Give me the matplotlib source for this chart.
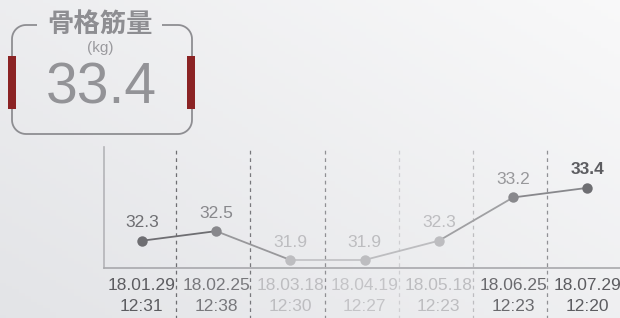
import numpy as np
import matplotlib
matplotlib.use("Agg")
import matplotlib.pyplot as plt
from matplotlib.patches import Rectangle

plt.rcParams['font.family'] = ['Liberation Sans', 'Noto Sans CJK JP', 'DejaVu Sans']

# datos
fechas = ["18.01.29", "18.02.25", "18.03.18", "18.04.19", "18.05.18", "18.06.25", "18.07.29"]
horas = ["12:31", "12:38", "12:30", "12:27", "12:23", "12:23", "12:20"]
valores = [32.3, 32.5, 31.9, 31.9, 32.3, 33.2, 33.4]
titulo = "骨格筋量"
unidad = "(kg)"
actual = "33.4"

# estilos
c_punto = ["#6e6e72", "#88888c", "#bdbdc0", "#bdbdc0", "#bdbdc0", "#88888c", "#6e6e72"]
c_valor = ["#6e6e72", "#88888c", "#bdbdc0", "#bdbdc0", "#bdbdc0", "#98989b", "#5c5c60"]
c_tick = ["#5c5c60", "#78787c", "#bdbdc0", "#c4c4c7", "#bdbdc0", "#6a6a6e", "#5c5c60"]
c_seg = ["#6e6e72", "#98989b", "#c4c4c7", "#bdbdc0", "#a0a0a3", "#88888c"]
c_guion = ["#6e6e72", "#78787c", "#909094", "#cfcfd2", "#bdbdc0", "#909094"]

W, H = 620, 318
fig = plt.figure(figsize=(W / 100, H / 100), dpi=100)

# fondo con degradado
bg = fig.add_axes([0, 0, 1, 1])
bg.set_xlim(0, W)
bg.set_ylim(H, 0)
bg.axis("off")
yy, xx = np.mgrid[0:1:100j, 0:1:100j]
t = np.clip(0.55 * xx + 0.45 * (1 - yy), 0, 1)
c0 = np.array([0.890, 0.894, 0.906])
c1 = np.array([0.975, 0.975, 0.978])
img = c0[None, None, :] * (1 - t[..., None]) + c1[None, None, :] * t[..., None]
bg.imshow(img, extent=[0, W, H, 0], aspect="auto", zorder=0)

# recuadro redondeado con hueco para el titulo
x0, x1, y0, y1, r = 12, 192, 25, 134, 14
def arco(cx, cy, a0, a1):
    a = np.radians(np.linspace(a0, a1, 12))
    return list(cx + r * np.cos(a)), list(cy + r * np.sin(a))
px, py = [162], [y0]
for cx, cy, a0, a1 in [(x1 - r, y0 + r, -90, 0), (x1 - r, y1 - r, 0, 90),
                       (x0 + r, y1 - r, 90, 180), (x0 + r, y0 + r, 180, 270)]:
    ax_, ay_ = arco(cx, cy, a0, a1)
    px += ax_
    py += ay_
px.append(37)
py.append(y0)
bg.plot(px, py, color="#8e8e92", lw=1.3, zorder=2, solid_capstyle="butt")

bg.text(100, 24, titulo, ha="center", va="center", fontsize=19, fontweight="bold",
        color="#8e8e92", family=['Noto Sans CJK JP', 'DejaVu Sans'], zorder=3)
bg.text(100, 48, unidad, ha="center", va="center", fontsize=11, color="#9a9a9e", zorder=3)
bg.text(101, 89, actual, ha="center", va="center", fontsize=41, color="#939397", zorder=3)
bg.add_patch(Rectangle((8, 56), 8, 53, fc="#8b2324", ec="none", zorder=3))
bg.add_patch(Rectangle((187, 56), 8, 53, fc="#8b2324", ec="none", zorder=3))

# grafico
x = np.arange(len(valores))
ax = fig.add_axes([104 / W, (H - 268) / H, (W - 104) / W, 121 / H])
ax.patch.set_alpha(0)
ax.set_xlim(-0.51, 6.44)
ax.set_ylim(31.733, 34.25)
for s in ["top", "right"]:
    ax.spines[s].set_visible(False)
ax.spines["left"].set_color("#b4b4b8")
ax.spines["bottom"].set_color("#a8a8ac")
ax.spines["left"].set_linewidth(1.2)
ax.spines["bottom"].set_linewidth(1.2)
ax.set_yticks([])

for i in range(len(x) - 1):
    ax.plot(x[i:i + 2], valores[i:i + 2], color=c_seg[i], lw=1.3, zorder=2)
    ax.axvline(i + 0.46, ymin=-0.42, ymax=1.0, color=c_guion[i], lw=0.9,
               ls=(0, (3, 3)), clip_on=False, zorder=1)
for i, v in enumerate(valores):
    ax.plot(x[i], v, "o", color=c_punto[i], ms=7.5, mec="none", zorder=3)
    peso = "bold" if i == len(valores) - 1 else "normal"
    ax.annotate("{:.1f}".format(v), (x[i], v), xytext=(0, 7.5), textcoords="offset points",
                ha="center", va="bottom", fontsize=12.5, color=c_valor[i], fontweight=peso)

ax.set_xticks(x)
ax.set_xticklabels(["{}\n{}".format(f, h) for f, h in zip(fechas, horas)],
                   fontsize=12.5, linespacing=1.55)
ax.tick_params(axis="x", length=0, pad=7)
for lbl, c in zip(ax.get_xticklabels(), c_tick):
    lbl.set_color(c)

plt.savefig("out.png", dpi=100)
